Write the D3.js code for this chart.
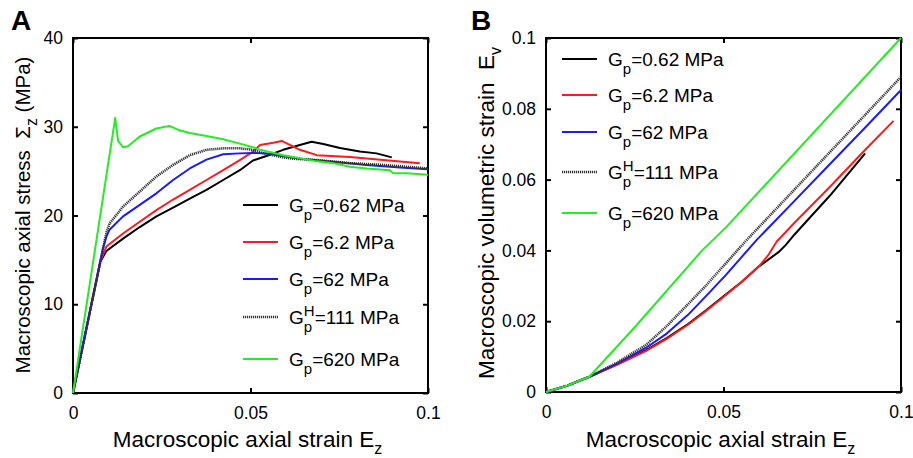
<!DOCTYPE html>
<html>
<head>
<meta charset="utf-8">
<script src="https://cdn.jsdelivr.net/npm/d3@7"></script>
<style>
  body { margin: 0; background: #fff; }
  svg { display: block; }
  text { font-family: Arial, "Liberation Sans", sans-serif; fill: #000; }
</style>
</head>
<body>
<div id="main_graphs"></div>
<script>
// ---------- data ----------
// panel A : stress vs axial strain
var aStrain062 = [0, 0.0077, 0.0094, 0.0141, 0.0188, 0.0235, 0.0282, 0.0329, 0.0376, 0.0423, 0.047, 0.0507, 0.0545, 0.0592, 0.0639, 0.0672, 0.0705, 0.0752, 0.0808, 0.0855, 0.0898]
var aStress062 = [0, 14.8, 16.0, 17.4, 18.7, 19.9, 20.9, 21.9, 22.9, 24.0, 25.1, 26.2, 26.7, 27.4, 27.95, 28.3, 28.05, 27.6, 27.2, 27.0, 26.55]

var aStrain62 = [0, 0.0077, 0.0094, 0.0141, 0.0188, 0.0235, 0.0282, 0.0329, 0.0376, 0.0423, 0.047, 0.0507, 0.0527, 0.0564, 0.0588, 0.0611, 0.0639, 0.0687, 0.078, 0.0874, 0.0977]
var aStress62 = [0, 14.8, 16.5, 17.97, 19.3, 20.6, 21.8, 22.9, 24.0, 25.1, 26.25, 27.2, 27.95, 28.2, 28.4, 27.95, 27.4, 26.8, 26.6, 26.25, 25.9]

var aStrain620 = [0, 0.0085, 0.0095, 0.0103, 0.0141, 0.0188, 0.0235, 0.0282, 0.0329, 0.0376, 0.0423, 0.047, 0.0507, 0.0545, 0.0592, 0.064, 0.0733, 0.0827, 0.0921, 0.1]
var aStress620 = [0, 16.4, 17.7, 18.4, 19.9, 21.2, 22.5, 24.0, 25.3, 26.3, 26.9, 27.0, 27.05, 27.0, 26.7, 26.4, 26.06, 25.7, 25.4, 25.2]

var aStrainH = [0, 0.0089, 0.0095, 0.0103, 0.0141, 0.0188, 0.0235, 0.0282, 0.0329, 0.0376, 0.0423, 0.047, 0.0507, 0.0536, 0.0592, 0.062, 0.0687, 0.078, 0.0874, 0.1]
var aStressH = [0, 17.1, 18.2, 19.1, 21.0, 22.7, 24.4, 25.7, 26.8, 27.4, 27.57, 27.57, 27.4, 27.0, 26.55, 26.4, 26.25, 25.9, 25.7, 25.3]

var aStrain6200 = [0, 0.0119, 0.0127, 0.0141, 0.0155, 0.0188, 0.0235, 0.0272, 0.030, 0.0329, 0.0376, 0.0423, 0.047, 0.0507, 0.0527, 0.0593, 0.064, 0.0687, 0.0733, 0.078, 0.0827, 0.0893, 0.0902, 0.094, 0.1]
var aStress6200 = [0, 31.0, 28.4, 27.7, 27.8, 28.9, 29.8, 30.1, 29.6, 29.3, 28.96, 28.6, 28.1, 27.7, 27.4, 26.8, 26.44, 26.1, 25.9, 25.5, 25.3, 25.1, 24.75, 24.75, 24.6]

// panel B : volumetric strain vs axial strain
var bStrain062 = [0, 0.006, 0.0122, 0.02, 0.0282, 0.034, 0.04, 0.045, 0.0507, 0.055, 0.06, 0.0655, 0.0675, 0.07, 0.08, 0.0899]
var bVol062 = [0, 0.0018, 0.0043, 0.0078, 0.0118, 0.0152, 0.0192, 0.023, 0.0276, 0.031, 0.0355, 0.0395, 0.0415, 0.0445, 0.0555, 0.0674]

var bStrain62 = [0, 0.006, 0.0122, 0.02, 0.0282, 0.034, 0.04, 0.045, 0.0507, 0.055, 0.06, 0.0625, 0.065, 0.07, 0.08, 0.09, 0.0979]
var bVol62 = [0, 0.0018, 0.0043, 0.0077, 0.0116, 0.015, 0.019, 0.0228, 0.0274, 0.031, 0.0355, 0.0385, 0.0425, 0.0478, 0.058, 0.0685, 0.0766]

var bStrain620 = [0, 0.006, 0.0122, 0.02, 0.0282, 0.034, 0.04, 0.045, 0.0507, 0.0593, 0.07, 0.08, 0.09, 0.1]
var bVol620 = [0, 0.0018, 0.0043, 0.008, 0.0125, 0.0165, 0.0218, 0.027, 0.0331, 0.0429, 0.054, 0.0644, 0.0748, 0.0853]

var bStrainH = [0, 0.006, 0.0122, 0.02, 0.0282, 0.034, 0.04, 0.045, 0.0507, 0.0565, 0.07, 0.08, 0.09, 0.1]
var bVolH = [0, 0.0018, 0.0043, 0.0083, 0.0133, 0.0186, 0.0248, 0.030, 0.0364, 0.0429, 0.0572, 0.0678, 0.0784, 0.089]

var bStrain6200 = [0, 0.006, 0.0122, 0.025, 0.044, 0.0507, 0.1]
var bVol6200 = [0, 0.0018, 0.0043, 0.0183, 0.040, 0.0465, 0.1]

// tick labels
var xTicks = [0, 0.05, 0.1]
var xTickLabels = ["0", "0.05", "0.1"]
var aYTicks = [0, 10, 20, 30, 40]
var bYTicks = [0, 0.02, 0.04, 0.06, 0.08, 0.1]
var bYTickLabels = ["0", "0.02", "0.04", "0.06", "0.08", "0.1"]

// legend entries (same order in both panels)
var legendMain = ["G", "G", "G", "G", "G"]
var legendRest = ["=0.62 MPa", "=6.2 MPa", "=62 MPa", "=111 MPa", "=620 MPa"]
var legendSup = ["", "", "", "H", ""]

var colors = ["#000000", "#ff1a1a", "#1a1aff", "#333333", "#22ee22"]
var dashes = [null, null, null, "1.2,0.8", null]

var svg = d3.select("#main_graphs")
  .append("svg")
  .attr("width", 913)
  .attr("height", 458)

function drawPanel(opt){

  var g = svg.append("g")

  var x = d3.scaleLinear()
    .domain([0, 0.1])
    .range([opt.left, opt.right])

  var y = d3.scaleLinear()
    .domain(opt.yDomain)
    .range([opt.bottom, opt.top])

  // frame with inward ticks on all four sides
  g.append("rect")
    .attr("x", opt.left)
    .attr("y", opt.top)
    .attr("width", opt.right - opt.left)
    .attr("height", opt.bottom - opt.top)
    .style("fill", "none")
    .style("stroke", "#000")
    .style("stroke-width", 2)

  var axB = g.append("g")
    .attr("transform", "translate(0," + opt.bottom + ")")
    .call(d3.axisBottom(x).tickValues(xTicks).tickSize(-5).tickPadding(14).tickFormat(function(d,i){ return xTickLabels[i]; }))
  var axT = g.append("g")
    .attr("transform", "translate(0," + opt.top + ")")
    .call(d3.axisTop(x).tickValues(xTicks).tickSize(-5).tickFormat(""))
  var axL = g.append("g")
    .attr("transform", "translate(" + opt.left + ",0)")
    .call(d3.axisLeft(y).tickValues(opt.yTicks).tickSize(-5).tickPadding(10).tickFormat(function(d,i){ return opt.yTickLabels[i]; }))
  var axR = g.append("g")
    .attr("transform", "translate(" + opt.right + ",0)")
    .call(d3.axisRight(y).tickValues(opt.yTicks).tickSize(-5).tickFormat(""))

  ;[axB, axT, axL, axR].forEach(function(a){
    a.select(".domain").remove()
    a.selectAll("line").style("stroke", "#000").style("stroke-width", 2)
    a.selectAll("text").style("font-size", "17.5px").style("font-family", "Arial, 'Liberation Sans', sans-serif").attr("fill", "#000")
  })

  // curves
  var line = d3.line()
    .x(function(d) { return x(d[0]); })
    .y(function(d) { return y(d[1]); })

  opt.series.forEach(function(s, i){
    var pts = s[0].map(function(v, k){ return [v, s[1][k]]; })
    g.append("path")
      .datum(pts)
      .attr("d", line)
      .style("fill", "none")
      .style("stroke", colors[i])
      .style("stroke-width", i == 3 ? 2.6 : 2)
      .style("stroke-dasharray", dashes[i])
      .style("stroke-linejoin", "round")
  })

  // legend
  opt.legendY.forEach(function(ly, i){
    g.append("line")
      .attr("x1", opt.legX).attr("x2", opt.legX + 35)
      .attr("y1", ly).attr("y2", ly)
      .style("stroke", colors[i])
      .style("stroke-width", i == 3 ? 2.6 : 2)
      .style("stroke-dasharray", dashes[i])

    var tx = opt.legX + 46
    var base = ly + 7
    var gT = g.append("text").attr("x", tx).attr("y", base).style("font-size", "19px").text(legendMain[i])
    var gw = gT.node().getComputedTextLength()
    var sub = g.append("text").attr("x", tx + gw).attr("y", base + 8).style("font-size", "15px").text("p")
    var w = sub.node().getComputedTextLength()
    if (legendSup[i]) {
      var sup = g.append("text").attr("x", tx + gw).attr("y", base - 8).style("font-size", "15px").text(legendSup[i])
      w = Math.max(w, sup.node().getComputedTextLength())
    }
    g.append("text").attr("x", tx + gw + w).attr("y", base).style("font-size", "19px").text(legendRest[i])
  })

  // x label
  var xl = g.append("text")
    .attr("x", (opt.left + opt.right) / 2 - 3)
    .attr("y", 447)
    .style("text-anchor", "middle")
    .style("font-size", "22.5px")
  xl.append("tspan").text("Macroscopic axial strain E")
  xl.append("tspan").attr("dy", 7).style("font-size", "16px").text("z")

  // y label
  var yl = g.append("text")
    .attr("transform", "translate(" + opt.yLabX + "," + opt.yLabMid + ") rotate(-90)")
    .style("text-anchor", "middle")
    .style("font-size", opt.yLabSize)
    .style("white-space", "pre")
  yl.append("tspan").text(opt.yLab1)
  yl.append("tspan").attr("dy", 7).style("font-size", "16px").text(opt.yLabSub)
  if (opt.yLab2) yl.append("tspan").attr("dy", -7).text(opt.yLab2)

  // panel letter
  g.append("text")
    .attr("x", opt.letterX)
    .attr("y", 30)
    .style("font-size", "28px")
    .style("font-weight", "bold")
    .text(opt.letter)
}

drawPanel({
  left: 73, right: 428, top: 38, bottom: 393,
  yDomain: [0, 40], yTicks: aYTicks, yTickLabels: aYTicks.map(String),
  series: [[aStrain062, aStress062], [aStrain62, aStress62], [aStrain620, aStress620], [aStrainH, aStressH], [aStrain6200, aStress6200]],
  legX: 243, legendY: [205, 242, 279, 317, 359],
  yLabX: 30, yLabMid: 215, yLabSize: "20.5px", yLab1: "Macroscopic axial stress  \u03A3", yLabSub: "z", yLab2: " (MPa)",
  letter: "A", letterX: 11
})

drawPanel({
  left: 546, right: 901, top: 38, bottom: 392,
  yDomain: [0, 0.1], yTicks: bYTicks, yTickLabels: bYTickLabels,
  series: [[bStrain062, bVol062], [bStrain62, bVol62], [bStrain620, bVol620], [bStrainH, bVolH], [bStrain6200, bVol6200]],
  legX: 562, legendY: [59, 95, 132, 172, 213],
  yLabX: 494, yLabMid: 213, yLabSize: "22.5px", yLab1: "Macroscopic volumetric strain  E", yLabSub: "v", yLab2: "",
  letter: "B", letterX: 471
})
</script>
</body>
</html>
